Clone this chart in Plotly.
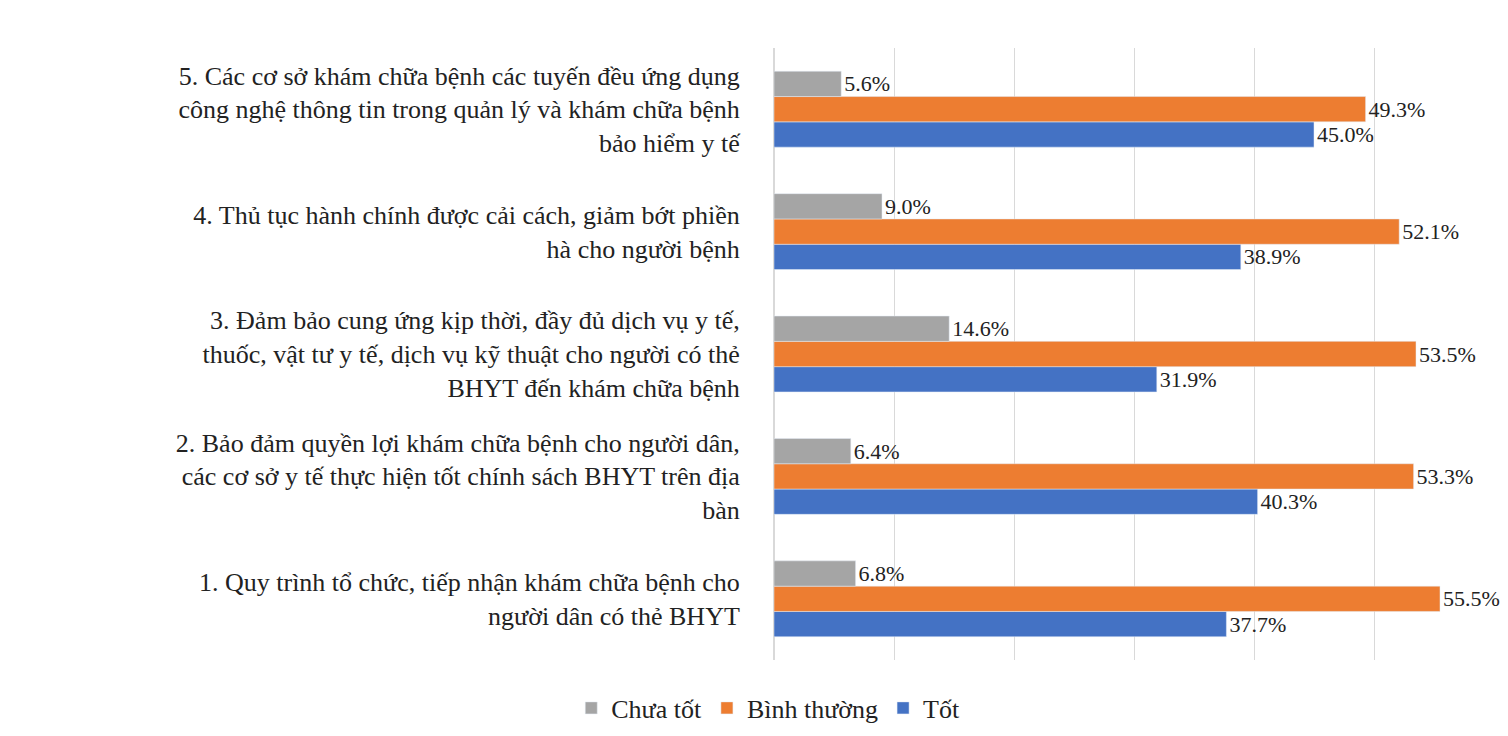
import plotly.graph_objects as go

categories = [
    "1. Quy trình tổ chức, tiếp nhận khám chữa bệnh cho<br>người dân có thẻ BHYT",
    "2. Bảo đảm quyền lợi khám chữa bệnh cho người dân,<br>các cơ sở y tế thực hiện tốt chính sách BHYT trên địa<br>bàn",
    "3. Đảm bảo cung ứng kịp thời, đầy đủ dịch vụ y tế,<br>thuốc, vật tư y tế, dịch vụ kỹ thuật cho người có thẻ<br>BHYT đến khám chữa bệnh",
    "4. Thủ tục hành chính được cải cách, giảm bớt phiền<br>hà cho người bệnh",
    "5. Các cơ sở khám chữa bệnh các tuyến đều ứng dụng<br>công nghệ thông tin trong quản lý và khám chữa bệnh<br>bảo hiểm y tế",
]
tot = [37.7, 40.3, 31.9, 38.9, 45.0]
binh_thuong = [55.5, 53.3, 53.5, 52.1, 49.3]
chua_tot = [6.8, 6.4, 14.6, 9.0, 5.6]

font = "Liberation Serif"
fig = go.Figure()
for name, vals, color in [("Tốt", tot, "#4472C4"),
                          ("Bình thường", binh_thuong, "#ED7D31"),
                          ("Chưa tốt", chua_tot, "#A5A5A5")]:
    fig.add_trace(go.Bar(
        y=categories, x=vals, name=name, orientation="h",
        marker_color=color,
        text=[f"{v:.1f}%" for v in vals], textposition="outside",
        textfont=dict(family=font, size=22, color="#222"),
        cliponaxis=False,
    ))

fig.update_layout(
    barmode="group", bargap=0.38, bargroupgap=0,
    width=1508, height=736,
    margin=dict(l=766, r=22, t=40, b=81),
    plot_bgcolor="white", paper_bgcolor="white",
    font=dict(family=font, size=26, color="#222"),
    xaxis=dict(range=[0, 60], dtick=10, showticklabels=False,
               showgrid=True, gridcolor="#D9D9D9", zeroline=True,
               zerolinecolor="#D9D9D9"),
    yaxis=dict(automargin=False, ticks="outside", ticklen=28,
               tickcolor="white", tickfont=dict(family=font, size=26)),
    legend=dict(orientation="h", traceorder="reversed", x=-0.008,
                xanchor="center", y=-0.04, yanchor="top",
                font=dict(family=font, size=26)),
    showlegend=True,
)
fig.write_html("out.html")
